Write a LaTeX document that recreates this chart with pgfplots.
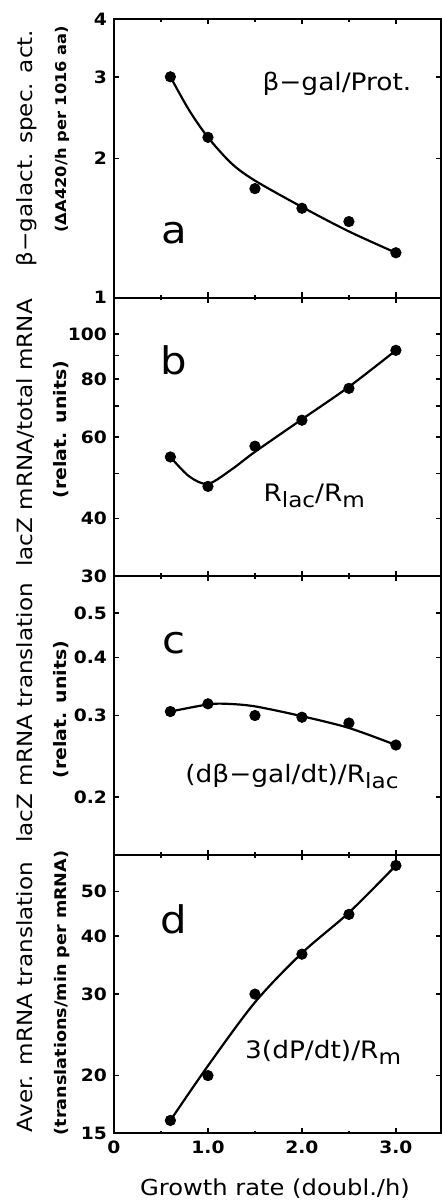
\documentclass[border=0pt]{standalone}
\usepackage{fontspec}
\setmainfont{DejaVu Sans}[FakeStretch=1.1]
\usepackage{pgfplots}
\pgfplotsset{compat=1.18}

\newcommand{\sub}[1]{\raisebox{-0.45ex}{\fontsize{10.5}{10.5}\selectfont #1}}
\newcommand{\annfont}{\fontsize{12}{12}\selectfont}
\newcommand{\letfont}{\fontsize{19}{19}\selectfont}
\newcommand{\mainlab}{\fontsize{10.5}{10.5}\selectfont}
\newcommand{\sublab}[1]{\bfseries\fontsize{#1}{#1}\selectfont}

\pgfplotsset{
  mypanel/.style={
    scale only axis, width=163.5pt, height=139.3pt,
    xmin=0, xmax=3.48,
    axis line style={line width=1pt},
    xtick={0,1,2,3}, minor xtick={0.5,1.5,2.5},
    xticklabel=\empty,
    tick align=inside, xtick pos=both, ytick pos=both,
    tick style={black, line width=0.8pt},
    major tick length=2.6pt, minor tick length=1.4pt,
    log ticks with fixed point,
    yticklabel style={font=\bfseries\fontsize{8.5}{8.5}\selectfont},
    xticklabel style={font=\bfseries\fontsize{8.5}{8.5}\selectfont},
  },
  dat/.style={only marks, mark=*, mark size=2.6pt, black},
  fit/.style={smooth, black, line width=1.1pt, no marks},
}

\begin{document}
\begin{tikzpicture}
% a
\begin{semilogyaxis}[mypanel, name=pa, at={(0,0)}, anchor=north west,
  ymin=1, ymax=4, ytick={1,2,3,4}, yticklabels={1,2,3,4}]
  \addplot[fit] coordinates {(0.6,3.0) (0.8,2.54) (1.0,2.22) (1.25,1.95) (1.5,1.79) (2.0,1.57) (2.5,1.39) (3.0,1.25)};
  \addplot[dat] coordinates {(0.6,3.0) (1.0,2.22) (1.5,1.72) (2.0,1.56) (2.5,1.46) (3.0,1.25)};
  \node[anchor=base, inner sep=0] at (rel axis cs:0.183,0.195) {\letfont a};
  \node[anchor=base west, inner sep=0] at (rel axis cs:0.453,0.744) {\annfont β−gal/Prot.};
\end{semilogyaxis}
% b
\begin{semilogyaxis}[mypanel, name=pb, at={(0,-139.3pt)}, anchor=north west,
  ymin=30, ymax=120, ytick={30,40,50,60,70,80,90,100}, yticklabels={30,40,,60,,80,,100}]
  \addplot[fit] coordinates {(0.6,54.3) (0.8,49.3) (1.0,47.5) (1.25,51) (1.5,55.7) (2.0,65.5) (2.5,77) (3.0,92.3)};
  \addplot[dat] coordinates {(0.6,54.3) (1.0,46.9) (1.5,57.3) (2.0,65.2) (2.5,76.4) (3.0,92.3)};
  \node[anchor=base, inner sep=0] at (rel axis cs:0.183,0.724) {\letfont b};
  \node[anchor=base west, inner sep=0] at (rel axis cs:0.456,0.269) {\annfont R\sub{lac}/R\sub{m}};
\end{semilogyaxis}
% c
\begin{semilogyaxis}[mypanel, name=pc, at={(0,-278.6pt)}, anchor=north west,
  ymin=0.15, ymax=0.6, ytick={0.2,0.3,0.4,0.5}, yticklabels={0.2,0.3,0.4,0.5}]
  \addplot[fit] coordinates {(0.6,0.306) (1.0,0.317) (1.2,0.318) (1.5,0.314) (2.0,0.299) (2.5,0.282) (3.0,0.259)};
  \addplot[dat] coordinates {(0.6,0.306) (1.0,0.318) (1.5,0.300) (2.0,0.2975) (2.5,0.289) (3.0,0.259)};
  \node[anchor=base, inner sep=0] at (rel axis cs:0.183,0.723) {\letfont c};
  \node[anchor=base west, inner sep=0] at (rel axis cs:0.217,0.26) {\annfont (dβ−gal/dt)/R\sub{lac}};
\end{semilogyaxis}
% d
\begin{semilogyaxis}[mypanel, name=pd, at={(0,-417.9pt)}, anchor=north west,
  ymin=15, ymax=60, ytick={15,20,30,40,50}, yticklabels={15,20,30,40,50},
  xticklabels={0,1.0,2.0,3.0}]
  \addplot[fit] coordinates {(0.6,16.0) (1.0,21.0) (1.5,28.8) (2.0,36.8) (2.5,45.0) (3.0,56.9)};
  \addplot[dat] coordinates {(0.6,16.0) (1.0,20.0) (1.5,30.0) (2.0,36.6) (2.5,44.6) (3.0,56.9)};
  \node[anchor=base, inner sep=0] at (rel axis cs:0.183,0.719) {\letfont d};
  \node[anchor=base west, inner sep=0] at (rel axis cs:0.40,0.269) {\annfont 3(dP/dt)/R\sub{m}};
\end{semilogyaxis}

% axis titles
\begin{scope}[every node/.style={rotate=90, anchor=base, inner sep=0}]
  \node at (-40.5pt,-64.5pt) {\mainlab β−galact. spec. act.};
  \node at (-23.5pt,-56.5pt) {\sublab{7.4} (ΔA420/h per 1016 aa)};
  \node at (-40.5pt,-207pt) {\mainlab lacZ mRNA/total mRNA};
  \node at (-23.5pt,-207pt) {\sublab{8.6} (relat. units)};
  \node at (-40.5pt,-347pt) {\mainlab lacZ mRNA translation};
  \node at (-23.5pt,-347pt) {\sublab{8.6} (relat. units)};
  \node at (-40.5pt,-489pt) {\mainlab Aver. mRNA translation};
  \node at (-23.5pt,-488.5pt) {\sublab{8} (translations/min per mRNA)};
\end{scope}
\node[anchor=base, inner sep=0] at (80.5pt,-588.3pt) {\fontsize{11}{11}\selectfont Growth rate (doubl./h)};

\pgfresetboundingbox
\path[use as bounding box] (-57pt,9.5pt) rectangle (163.5pt,-591pt);
\end{tikzpicture}
\end{document}
